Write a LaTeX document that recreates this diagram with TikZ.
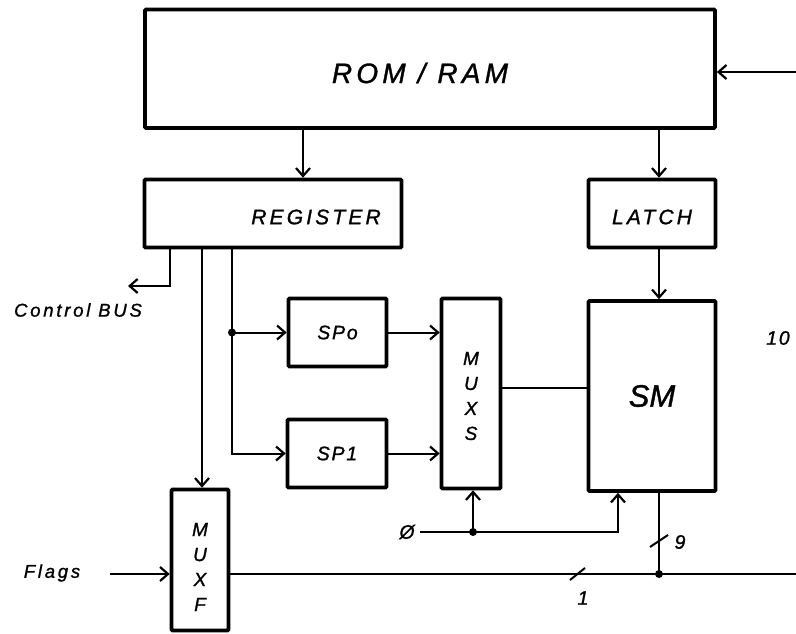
\documentclass[tikz,border=0pt]{standalone}
\usepackage{fontspec}
\setmainfont{Liberation Sans}
\newfontfamily\spaced{Liberation Sans}[LetterSpace=15,FakeBold=1.2]
\newfontfamily\lspaced{Liberation Sans}[LetterSpace=9,FakeBold=1.2]
\newfontfamily\plain{Liberation Sans}[FakeBold=1.2]
\usetikzlibrary{arrows.meta,calc}
\begin{document}
\begin{tikzpicture}[x=1pt,y=-1pt,
  box/.style={draw,line width=3.6pt,inner sep=0pt,rounded corners=1pt},
  conn/.style={line width=2pt},
  arr/.style={conn,-{Straight Barb[length=8pt,width=14pt,line width=2.2pt]}},
  dotnode/.style={circle,fill,inner sep=0pt,minimum size=8pt},
  big/.style={font=\spaced\itshape\fontsize{28}{30}\selectfont},
  mid/.style={font=\spaced\itshape\fontsize{21}{24}\selectfont},
  small/.style={font=\lspaced\itshape\fontsize{19.5}{22}\selectfont},
  lbl/.style={font=\spaced\itshape\fontsize{18.5}{20}\selectfont},
  vert/.style={font=\plain\itshape\fontsize{19}{25}\selectfont,align=center}
]
\useasboundingbox (0,0) rectangle (796,634);

% boxes
\node[box,minimum width=570,minimum height=118.5] (rom) at (430,68.75) {};
\node[big] (romt) at (420,73) {ROM / RAM};
\node[box,minimum width=257,minimum height=68] (reg) at (273,213.5) {};
\node[mid] (regt) at (316,217) {REGISTER};
\node[box,minimum width=127,minimum height=68] (latch) at (652,213.5) {};
\node[mid] (latcht) at (652,217) {LATCH};
\node[box,minimum width=98,minimum height=68,small] (sp0) at (337.5,332.5) {SPo};
\node[box,minimum width=99,minimum height=68,small] (sp1) at (337,453.5) {SP1};
\node[box,minimum width=59,minimum height=190] (muxs) at (471,393.5) {};
\node[vert] (muxst) at (471,396) {M\\U\\X\\S};
\node[box,minimum width=127,minimum height=190,font=\plain\itshape\fontsize{31}{32}\selectfont] (sm) at (652,396) {SM};
\node[box,minimum width=57,minimum height=141] (muxf) at (200,560) {};
\node[vert] (muxft) at (200,567) {M\\U\\X\\F};

% labels
\node[lbl] (cbus) at (78,310) {Control BUS};
\node[lbl] (flags) at (52,573) {Flags};
\node[small] (phi) at (407,532) {Ø};
\node[small] (l10) at (778,338) {10};
\node[small] (l9) at (680,542) {9};
\node[small] (l1) at (583,598) {1};

% helper coordinates
\coordinate (xa) at (303,0);
\coordinate (xb) at (659,0);
\coordinate (xc) at (170,0);
\coordinate (xd) at (202,0);
\coordinate (xe) at (232,0);
\coordinate (xg) at (618,0);
\coordinate (ym) at (0,388);
\coordinate (cb) at (128,286);
\coordinate (rin) at (796,72);
\coordinate (busend) at (796,574);
\coordinate (fin) at (110,574);
\coordinate (jn) at (473,532);
\coordinate (phie) at (420,532);

% connectors
\draw[arr] (rin) -- (rin -| rom.east);
\draw[arr] (xa |- rom.south) -- (xa |- reg.north);
\draw[arr] (xb |- rom.south) -- (xb |- latch.north);
\draw[arr] (xb |- latch.south) -- (xb |- sm.north);
\draw[arr] (xc |- reg.south) |- (cb);
\draw[arr] (xd |- reg.south) -- (xd |- muxf.north);
\draw[arr] (xe |- reg.south) |- (sp1.west);
\draw[arr] (xe |- sp0.west) -- (sp0.west);
\node[dotnode] (d1) at (xe |- sp0.west) {};
\draw[arr] (sp0.east) -- (sp0.east -| muxs.west);
\draw[arr] (sp1.east) -- (sp1.east -| muxs.west);
\draw[conn] (muxs.east |- ym) -- (sm.west |- ym);
\draw[arr] (phie) -| (xg |- sm.south);
\draw[arr] (jn) -- (jn |- muxs.south);
\node[dotnode] (d2) at (jn) {};
\draw[arr] (fin) -- (fin -| muxf.west);
\draw[conn] (busend -| muxf.east) -- (busend);
\draw[conn] (xb |- sm.south) -- (xb |- busend);
\node[dotnode] (d3) at (xb |- busend) {};
% bus width slashes
\draw[conn] (570,580) -- (585,568);
\draw[conn] (650,547) -- (668,535);
\end{tikzpicture}
\end{document}
